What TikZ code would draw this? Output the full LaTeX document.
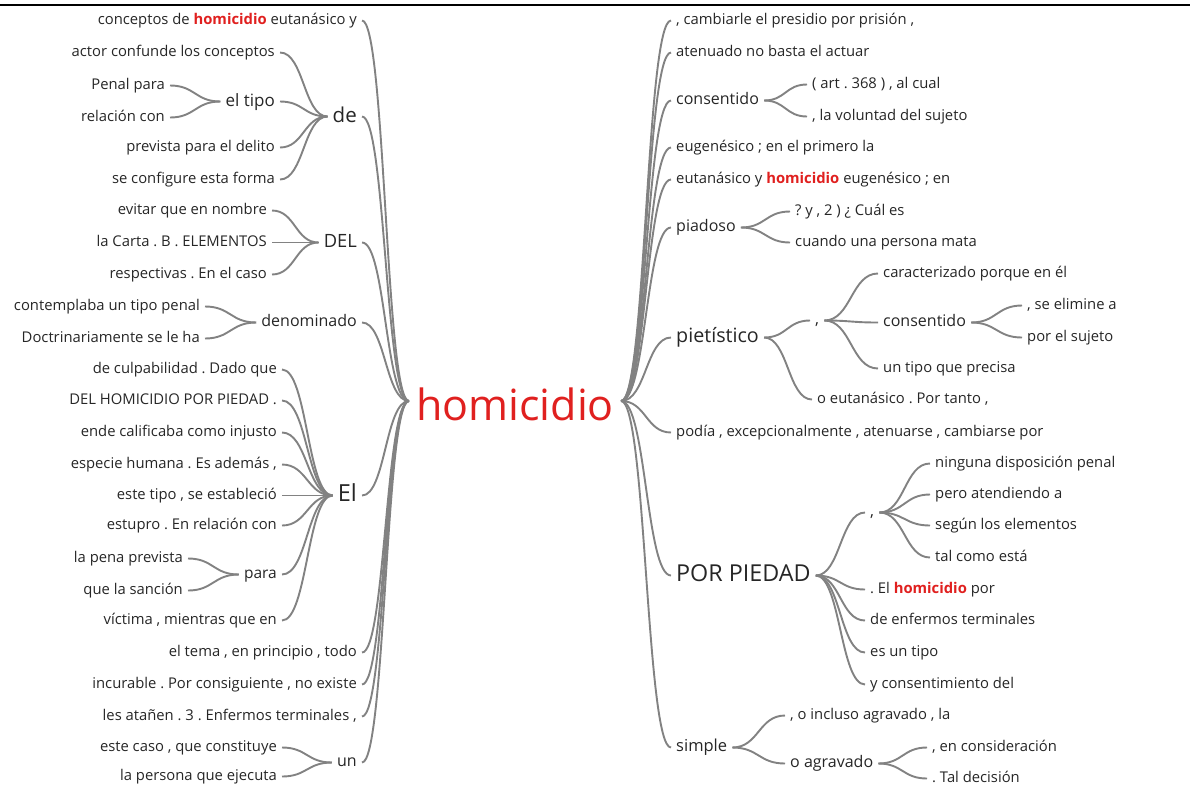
\documentclass[tikz,border=0pt]{standalone}
\usepackage{fontspec}
\setmainfont{Open Sans}
\usetikzlibrary{calc}
\definecolor{linkgray}{HTML}{828282}
\definecolor{wordgray}{HTML}{262626}
\definecolor{hred}{HTML}{E0201F}
\newcommand\hmc{\textcolor{hred}{\textbf{homicidio}}}
\newcommand\twig[2]{\draw[link] let \p1=(#1), \p2=(#2), \n1={(\x2-\x1)/2}, \n2={(\x1-\x2)/2} in (\p1) .. controls +(\n1,0) and +(\n2,0) .. (\p2);}

\begin{document}
\frenchspacing
\begin{tikzpicture}[x=1pt, y=-1pt,
		link/.style={draw=linkgray, line width=1.9pt},
		sz/.code={\pgfmathsetmacro\szh{0.69*#1}\pgfmathsetmacro\szd{0.15*#1}%
			\pgfkeysalso{font=\fontsize{#1}{#1}\selectfont, text height=\szh pt, text depth=\szd pt}},
		word/.style={sz=14.8, text=wordgray, inner xsep=5pt, inner ysep=0pt},
		lw/.style={word, anchor=east},
		rw/.style={word, anchor=west}]
			%%%%% START %%%%%
			\useasboundingbox (0,0) rectangle (1190,788);
			\draw[line width=2.5pt] (0,5) -- (1190,5);
			
			\node[word, font=\fontsize{43}{43}\selectfont, text height=38pt, text depth=0pt, text=hred, inner xsep=7pt] (root) at (515,401) {homicidio};
			
			\begin{scope}[yshift=-2.5pt]
			% left side
			\node[lw] (l0) at (362,18) {conceptos de \hmc{} eutanásico y};
			\node[lw, sz=20.5] (de) at (362,114) {de};
			\node[lw, sz=18.3] (del) at (362,240) {DEL};
			\node[lw, sz=16] (denom) at (362,320) {denominado};
			\node[lw, sz=23.5] (el) at (362,493) {El};
			\node[lw] (tema) at (362,650) {el tema , en principio , todo};
			\node[lw] (incur) at (362,682) {incurable . Por consiguiente , no existe};
			\node[lw] (atanen) at (362,714) {les atañen . 3 . Enfermos terminales ,};
			\node[lw, sz=16] (un) at (362,760) {un};
			
			\node[lw] (actor) at (280,50) {actor confunde los conceptos};
			\node[lw, sz=17] (tipo) at (280,99) {el tipo};
			\node[lw] (prev) at (280,145) {prevista para el delito};
			\node[lw] (config) at (280,177) {se configure esta forma};
			\node[lw] (penal) at (170,83) {Penal para};
			\node[lw] (relac) at (170,115) {relación con};
			
			\node[lw] (evitar) at (272,208) {evitar que en nombre};
			\node[lw] (carta) at (272,240) {la Carta . B . ELEMENTOS};
			\node[lw] (respec) at (272,272) {respectivas . En el caso};
			
			\node[lw] (contem) at (205,304) {contemplaba un tipo penal};
			\node[lw] (doctr) at (205,336) {Doctrinariamente se le ha};
			
			\node[lw] (culpa) at (282,367) {de culpabilidad . Dado que};
			\node[lw] (delhom) at (282,398) {DEL HOMICIDIO POR PIEDAD .};
			\node[lw] (ende) at (282,430) {ende calificaba como injusto};
			\node[lw] (especie) at (282,462) {especie humana . Es además ,};
			\node[lw] (estetipo) at (282,493) {este tipo , se estableció};
			\node[lw] (estupro) at (282,523) {estupro . En relación con};
			\node[lw, sz=15.5] (para) at (282,572) {para};
			\node[lw] (victima) at (282,618) {víctima , mientras que en};
			\node[lw] (pena) at (188,556) {la pena prevista};
			\node[lw] (sancion) at (188,588) {que la sanción};
			
			\node[lw] (caso) at (282,745) {este caso , que constituye};
			\node[lw] (ejecuta) at (282,774) {la persona que ejecuta};
			
			% right side
			\node[rw] (presidio) at (671,18) {, cambiarle el presidio por prisión ,};
			\node[rw] (atenuado) at (671,50) {atenuado no basta el actuar};
			\node[rw, sz=16] (consen) at (671,98) {consentido};
			\node[rw] (eugen) at (671,145) {eugenésico ; en el primero la};
			\node[rw] (eutan) at (671,177) {eutanásico y \hmc{} eugenésico ; en};
			\node[rw, sz=16] (piad) at (671,225) {piadoso};
			\node[rw, sz=19.7] (piet) at (671,335) {pietístico};
			\node[rw] (podia) at (671,430) {podía , excepcionalmente , atenuarse , cambiarse por};
			\node[rw, sz=23.3] (porp) at (671,573) {POR PIEDAD};
			\node[rw, sz=16.5] (simple) at (671,745) {simple};
			
			\node[rw] (art) at (807,82) {( art . 368 ) , al cual};
			\node[rw] (volun) at (807,114) {, la voluntad del sujeto};
			\node[rw] (cual) at (790,209) {? y , 2 ) ¿ Cuál es};
			\node[rw] (cuando) at (790,240) {cuando una persona mata};
			
			\node[rw, sz=16] (pcoma) at (810,318) {,};
			\node[rw] (oeutan) at (812,397) {o eutanásico . Por tanto ,};
			\node[rw] (caract) at (878,271) {caracterizado porque en él};
			\node[rw, sz=16] (consen2) at (878,320) {consentido};
			\node[rw] (precisa) at (878,366) {un tipo que precisa};
			\node[rw] (elimine) at (1022,303) {, se elimine a};
			\node[rw] (sujeto) at (1022,335) {por el sujeto};
			
			\node[rw, sz=16] (ppcoma) at (865,510) {,};
			\node[rw] (ninguna) at (930,461) {ninguna disposición penal};
			\node[rw] (pero) at (930,492) {pero atendiendo a};
			\node[rw] (segun) at (930,523) {según los elementos};
			\node[rw] (talcomo) at (930,555) {tal como está};
			\node[rw] (elhom) at (865,587) {. El \hmc{} por};
			\node[rw] (enferm) at (865,618) {de enfermos terminales};
			\node[rw] (esun) at (865,650) {es un tipo};
			\node[rw] (yconsen) at (865,682) {y consentimiento del};
			
			\node[rw] (incluso) at (785,713) {, o incluso agravado , la};
			\node[rw, sz=16] (oagrav) at (785,761) {o agravado};
			\node[rw] (consid) at (927,745) {, en consideración};
			\node[rw] (decision) at (927,776) {. Tal decisión};
			\end{scope}
			
			% links, left
			\twig{l0.east}{root.west}
			\twig{de.east}{root.west}
			\twig{del.east}{root.west}
			\twig{denom.east}{root.west}
			\twig{el.east}{root.west}
			\twig{tema.east}{root.west}
			\twig{incur.east}{root.west}
			\twig{atanen.east}{root.west}
			\twig{un.east}{root.west}
			
			\twig{actor.east}{de.west}
			\twig{tipo.east}{de.west}
			\twig{prev.east}{de.west}
			\twig{config.east}{de.west}
			\twig{penal.east}{tipo.west}
			\twig{relac.east}{tipo.west}
			
			\twig{evitar.east}{del.west}
			\twig{carta.east}{del.west}
			\twig{respec.east}{del.west}
			
			\twig{contem.east}{denom.west}
			\twig{doctr.east}{denom.west}
			
			\twig{culpa.east}{el.west}
			\twig{delhom.east}{el.west}
			\twig{ende.east}{el.west}
			\twig{especie.east}{el.west}
			\twig{estetipo.east}{el.west}
			\twig{estupro.east}{el.west}
			\twig{para.east}{el.west}
			\twig{victima.east}{el.west}
			\twig{pena.east}{para.west}
			\twig{sancion.east}{para.west}
			
			\twig{caso.east}{un.west}
			\twig{ejecuta.east}{un.west}
			
			% links, right
			\twig{root.east}{presidio.west}
			\twig{root.east}{atenuado.west}
			\twig{root.east}{consen.west}
			\twig{root.east}{eugen.west}
			\twig{root.east}{eutan.west}
			\twig{root.east}{piad.west}
			\twig{root.east}{piet.west}
			\twig{root.east}{podia.west}
			\twig{root.east}{porp.west}
			\twig{root.east}{simple.west}
			
			\twig{consen.east}{art.west}
			\twig{consen.east}{volun.west}
			\twig{piad.east}{cual.west}
			\twig{piad.east}{cuando.west}
			
			\twig{piet.east}{pcoma.west}
			\twig{piet.east}{oeutan.west}
			\twig{pcoma.east}{caract.west}
			\twig{pcoma.east}{consen2.west}
			\twig{pcoma.east}{precisa.west}
			\twig{consen2.east}{elimine.west}
			\twig{consen2.east}{sujeto.west}
			
			\twig{porp.east}{ppcoma.west}
			\twig{porp.east}{elhom.west}
			\twig{porp.east}{enferm.west}
			\twig{porp.east}{esun.west}
			\twig{porp.east}{yconsen.west}
			\twig{ppcoma.east}{ninguna.west}
			\twig{ppcoma.east}{pero.west}
			\twig{ppcoma.east}{segun.west}
			\twig{ppcoma.east}{talcomo.west}
			
			\twig{simple.east}{incluso.west}
			\twig{simple.east}{oagrav.west}
			\twig{oagrav.east}{consid.west}
			\twig{oagrav.east}{decision.west}
			%%%%% END %%%%%
\end{tikzpicture}
\end{document}
